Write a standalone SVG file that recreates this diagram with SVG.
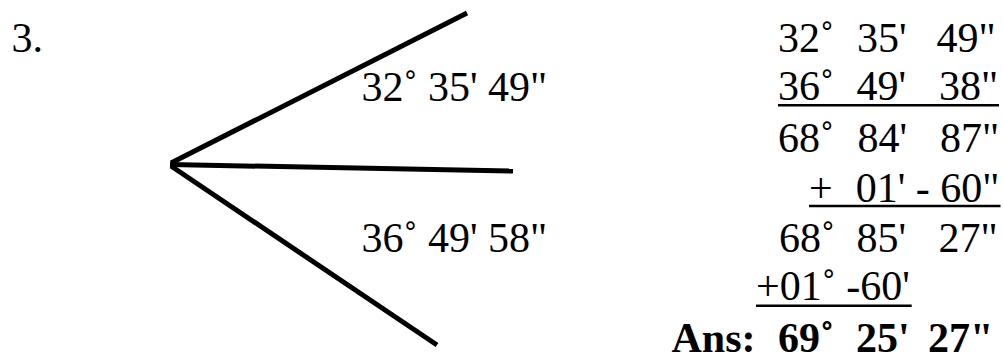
<svg xmlns="http://www.w3.org/2000/svg" width="1003" height="358" viewBox="0 0 1003 358">
<style>
text{font-family:"Liberation Serif","Times New Roman",serif;font-size:42px;fill:#000}
.b{font-weight:bold}
.ray{stroke:#000;stroke-width:5;stroke-linecap:butt;fill:none}
.ul{stroke:#000;stroke-width:2.5}
</style>
<rect width="1003" height="358" fill="#fff"/>
<g id="number"><text x="11.5" y="51.5">3.</text></g>
<g id="rays">
<line class="ray" x1="171" y1="163" x2="467" y2="13"/>
<line class="ray" x1="170" y1="164.5" x2="513" y2="171"/>
<line class="ray" x1="171" y1="166" x2="437" y2="345"/>
</g>
<g id="angle-labels">
<text x="361.5" y="100.5">32˚ 35' 49"</text>
<text x="361.5" y="251.5">36˚ 49' 58"</text>
</g>
<g id="calculation">
<text y="51.5"><tspan x="778">32˚</tspan><tspan x="857">35'</tspan><tspan x="936.5">49"</tspan></text>
<text y="100"><tspan x="778">36˚</tspan><tspan x="856.5">49'</tspan><tspan x="939">38"</tspan></text>
<line class="ul" x1="778" y1="105.3" x2="999" y2="105.3"/>
<text y="152"><tspan x="778">68˚</tspan><tspan x="857.5">84'</tspan><tspan x="940">87"</tspan></text>
<text x="809" y="201.5">+</text>
<text x="999.5" y="201.5" text-anchor="end">01' - 60"</text>
<line class="ul" x1="809" y1="206" x2="1000.5" y2="206"/>
<text y="251.5"><tspan x="779">68˚</tspan><tspan x="856.5">85'</tspan><tspan x="938.5">27"</tspan></text>
<text x="756" y="300">+01˚ -60'</text>
<line class="ul" x1="756" y1="305.7" x2="911.7" y2="305.7"/>
<text class="b" y="351.5"><tspan x="671.5">Ans:</tspan><tspan x="778">69˚</tspan><tspan x="856">25'</tspan><tspan x="928">27"</tspan></text>
</g>
</svg>
